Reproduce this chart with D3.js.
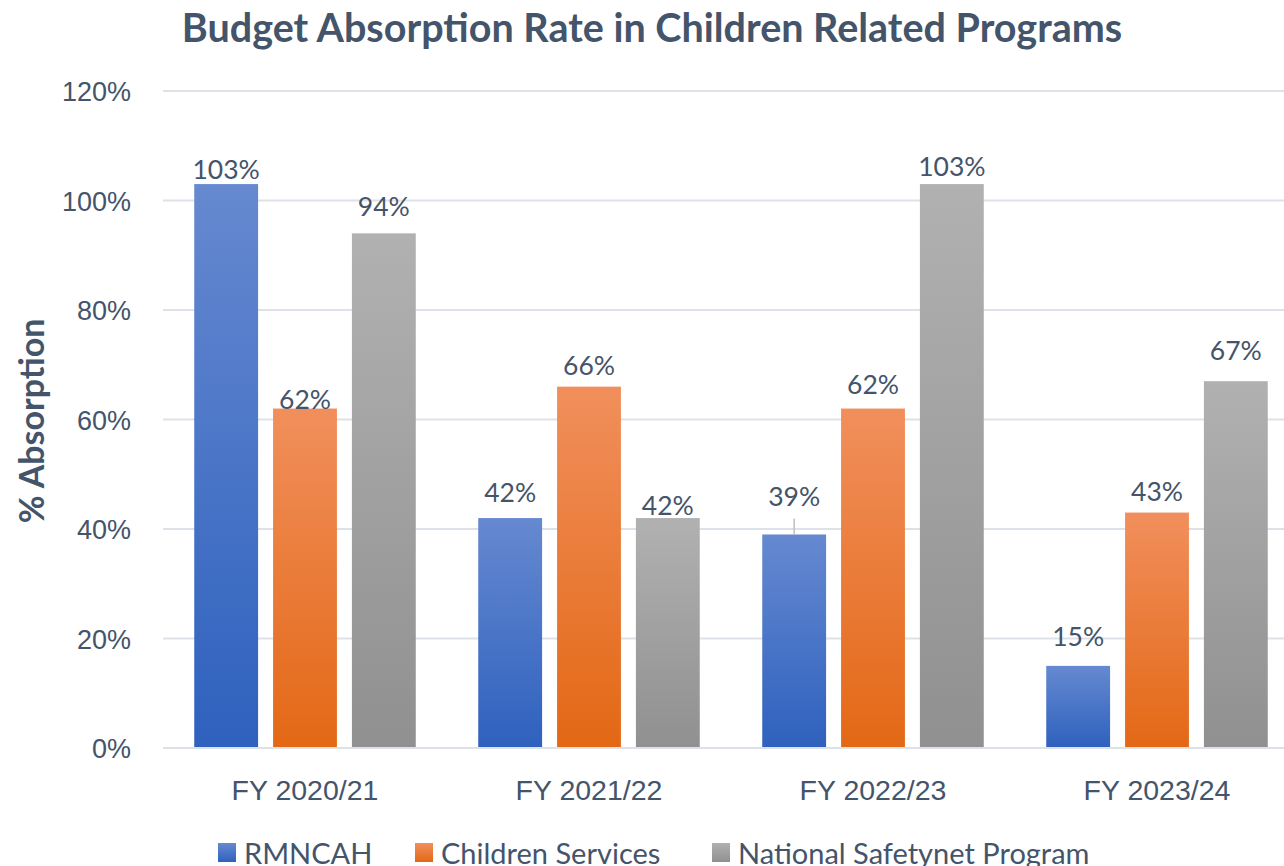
<!DOCTYPE html>
<html>
    <head>
        <title>Budget Absorption Rate in Children Related Programs</title>
        <script src="https://d3js.org/d3.v7.min.js"></script>
        <style>
            body { margin: 0; background: #fff; }
            svg { display: block; font-family: Lato, 'Open Sans', sans-serif; }
        </style>
    </head>
    <body>
        <script>
            // data
            const years = ['FY 2020/21', 'FY 2021/22', 'FY 2022/23', 'FY 2023/24']
            const seriesNames = ['RMNCAH', 'Children Services', 'National Safetynet Program']
            const rmncah = [1.03, 0.42, 0.39, 0.15]
            const childrenServices = [0.62, 0.66, 0.62, 0.43]
            const safetynet = [0.94, 0.42, 1.03, 0.67]
            const yTicks = [0, 0.2, 0.4, 0.6, 0.8, 1.0, 1.2]

            const seriesValues = [rmncah, childrenServices, safetynet]
            const colors = [
                { top: '#6689D0', bottom: '#2E61BE' },
                { top: '#F18F5C', bottom: '#E36815' },
                { top: '#B1B1B1', bottom: '#909090' }
            ]
            const textColor = '#44546A'

            // how far each value label sits above its bar (manually placed in the original)
            const labelGap = [
                [5, 16, 28, 20],
                [0, 12, 15, 12],
                [17, 3, 8, 21]
            ]

            const W = 1284, H = 866
            const svg = d3.select('body').append('svg')
                .attr('width', W).attr('height', H)

            const defs = svg.append('defs')
            colors.forEach((c, i) => {
                const lg = defs.append('linearGradient')
                    .attr('id', 'grad' + i)
                    .attr('x1', 0).attr('y1', 0).attr('x2', 0).attr('y2', 1)
                lg.append('stop').attr('offset', '0%').attr('stop-color', c.top)
                lg.append('stop').attr('offset', '100%').attr('stop-color', c.bottom)
            })

            const plotLeft = 163, plotRight = 1299
            const x0 = d3.scaleBand().domain(years).range([plotLeft, plotRight])
                .paddingInner(0.22).paddingOuter(0.11)
            const x1 = d3.scaleBand().domain(d3.range(seriesNames.length)).range([0, x0.bandwidth()])
                .paddingInner(0.19).paddingOuter(0)
            const y = d3.scaleLinear().domain([0, 1.2]).range([748, 91])

            // gridlines
            svg.append('g').selectAll('line')
                .data(yTicks).enter()
                .append('line')
                    .attr('x1', plotLeft).attr('x2', W)
                    .attr('y1', d => y(d)).attr('y2', d => y(d))
                    .attr('stroke', '#DDE2E9').attr('stroke-width', 2)

            // y axis labels
            const yAxis = d3.axisLeft(y).tickValues(yTicks)
                .tickFormat(d => Math.round(d * 100) + '%').tickSize(0).tickPadding(0)
            const yg = svg.append('g').attr('transform', 'translate(131, 0)').call(yAxis)
            yg.select('.domain').remove()
            yg.selectAll('text')
                .attr('fill', textColor).style('font-size', '27px').attr('dy', '0.36em')

            // x axis labels
            const xAxis = d3.axisBottom(x0).tickSize(0).tickPadding(0)
            const xg = svg.append('g').attr('transform', 'translate(0, 800)').call(xAxis)
            xg.select('.domain').remove()
            xg.selectAll('text')
                .attr('fill', textColor).style('font-size', '28.5px').attr('dy', 0)

            // bars
            const groups = svg.append('g').selectAll('g')
                .data(years).enter()
                .append('g')
                    .attr('transform', d => `translate(${x0(d)}, 0)`)

            const cells = groups.selectAll('g')
                .data((d, gi) => seriesValues.map((vals, si) => ({ si, gi, v: vals[gi] })))
                .enter().append('g')

            cells.append('rect')
                .attr('x', d => x1(d.si))
                .attr('y', d => y(d.v))
                .attr('width', x1.bandwidth())
                .attr('height', d => y(0) - y(d.v))
                .attr('fill', d => `url(#grad${d.si})`)

            cells.append('text')
                .attr('x', d => x1(d.si) + x1.bandwidth() / 2)
                .attr('y', d => y(d.v) - labelGap[d.si][d.gi])
                .attr('text-anchor', 'middle')
                .attr('fill', textColor)
                .style('font-size', '26.5px')
                .text(d => Math.round(d.v * 100) + '%')

            // leader line for the moved 39% label
            cells.filter(d => labelGap[d.si][d.gi] > 25)
                .append('line')
                    .attr('x1', d => x1(d.si) + x1.bandwidth() / 2)
                    .attr('x2', d => x1(d.si) + x1.bandwidth() / 2)
                    .attr('y1', d => y(d.v) - labelGap[d.si][d.gi] + 12)
                    .attr('y2', d => y(d.v))
                    .attr('stroke', '#BFBFBF').attr('stroke-width', 1.5)

            // baseline
            svg.append('line')
                .attr('x1', plotLeft).attr('x2', W)
                .attr('y1', y(0)).attr('y2', y(0))
                .attr('stroke', '#DDE2E9').attr('stroke-width', 2)

            // title
            svg.append('text')
                .attr('x', 652).attr('y', 42)
                .attr('text-anchor', 'middle')
                .attr('fill', textColor)
                .style('font-size', '39.5px').style('font-weight', 'bold')
                .text('Budget Absorption Rate in Children Related Programs')

            // y title
            svg.append('text')
                .attr('transform', 'translate(44, 421) rotate(-90)')
                .attr('text-anchor', 'middle')
                .attr('fill', textColor)
                .style('font-size', '34px').style('font-weight', 'bold')
                .text('% Absorption')

            // legend
            const legendX = [218, 415, 712]
            const legend = svg.append('g').selectAll('g')
                .data(seriesNames).enter()
                .append('g')
                    .attr('transform', (d, i) => `translate(${legendX[i]}, 843)`)
            legend.append('rect')
                .attr('width', 18).attr('height', 19)
                .attr('fill', (d, i) => `url(#grad${i})`)
            legend.append('text')
                .attr('x', 26).attr('y', 21)
                .attr('fill', textColor)
                .style('font-size', '29px')
                .text(d => d)
        </script>
    </body>
</html>
